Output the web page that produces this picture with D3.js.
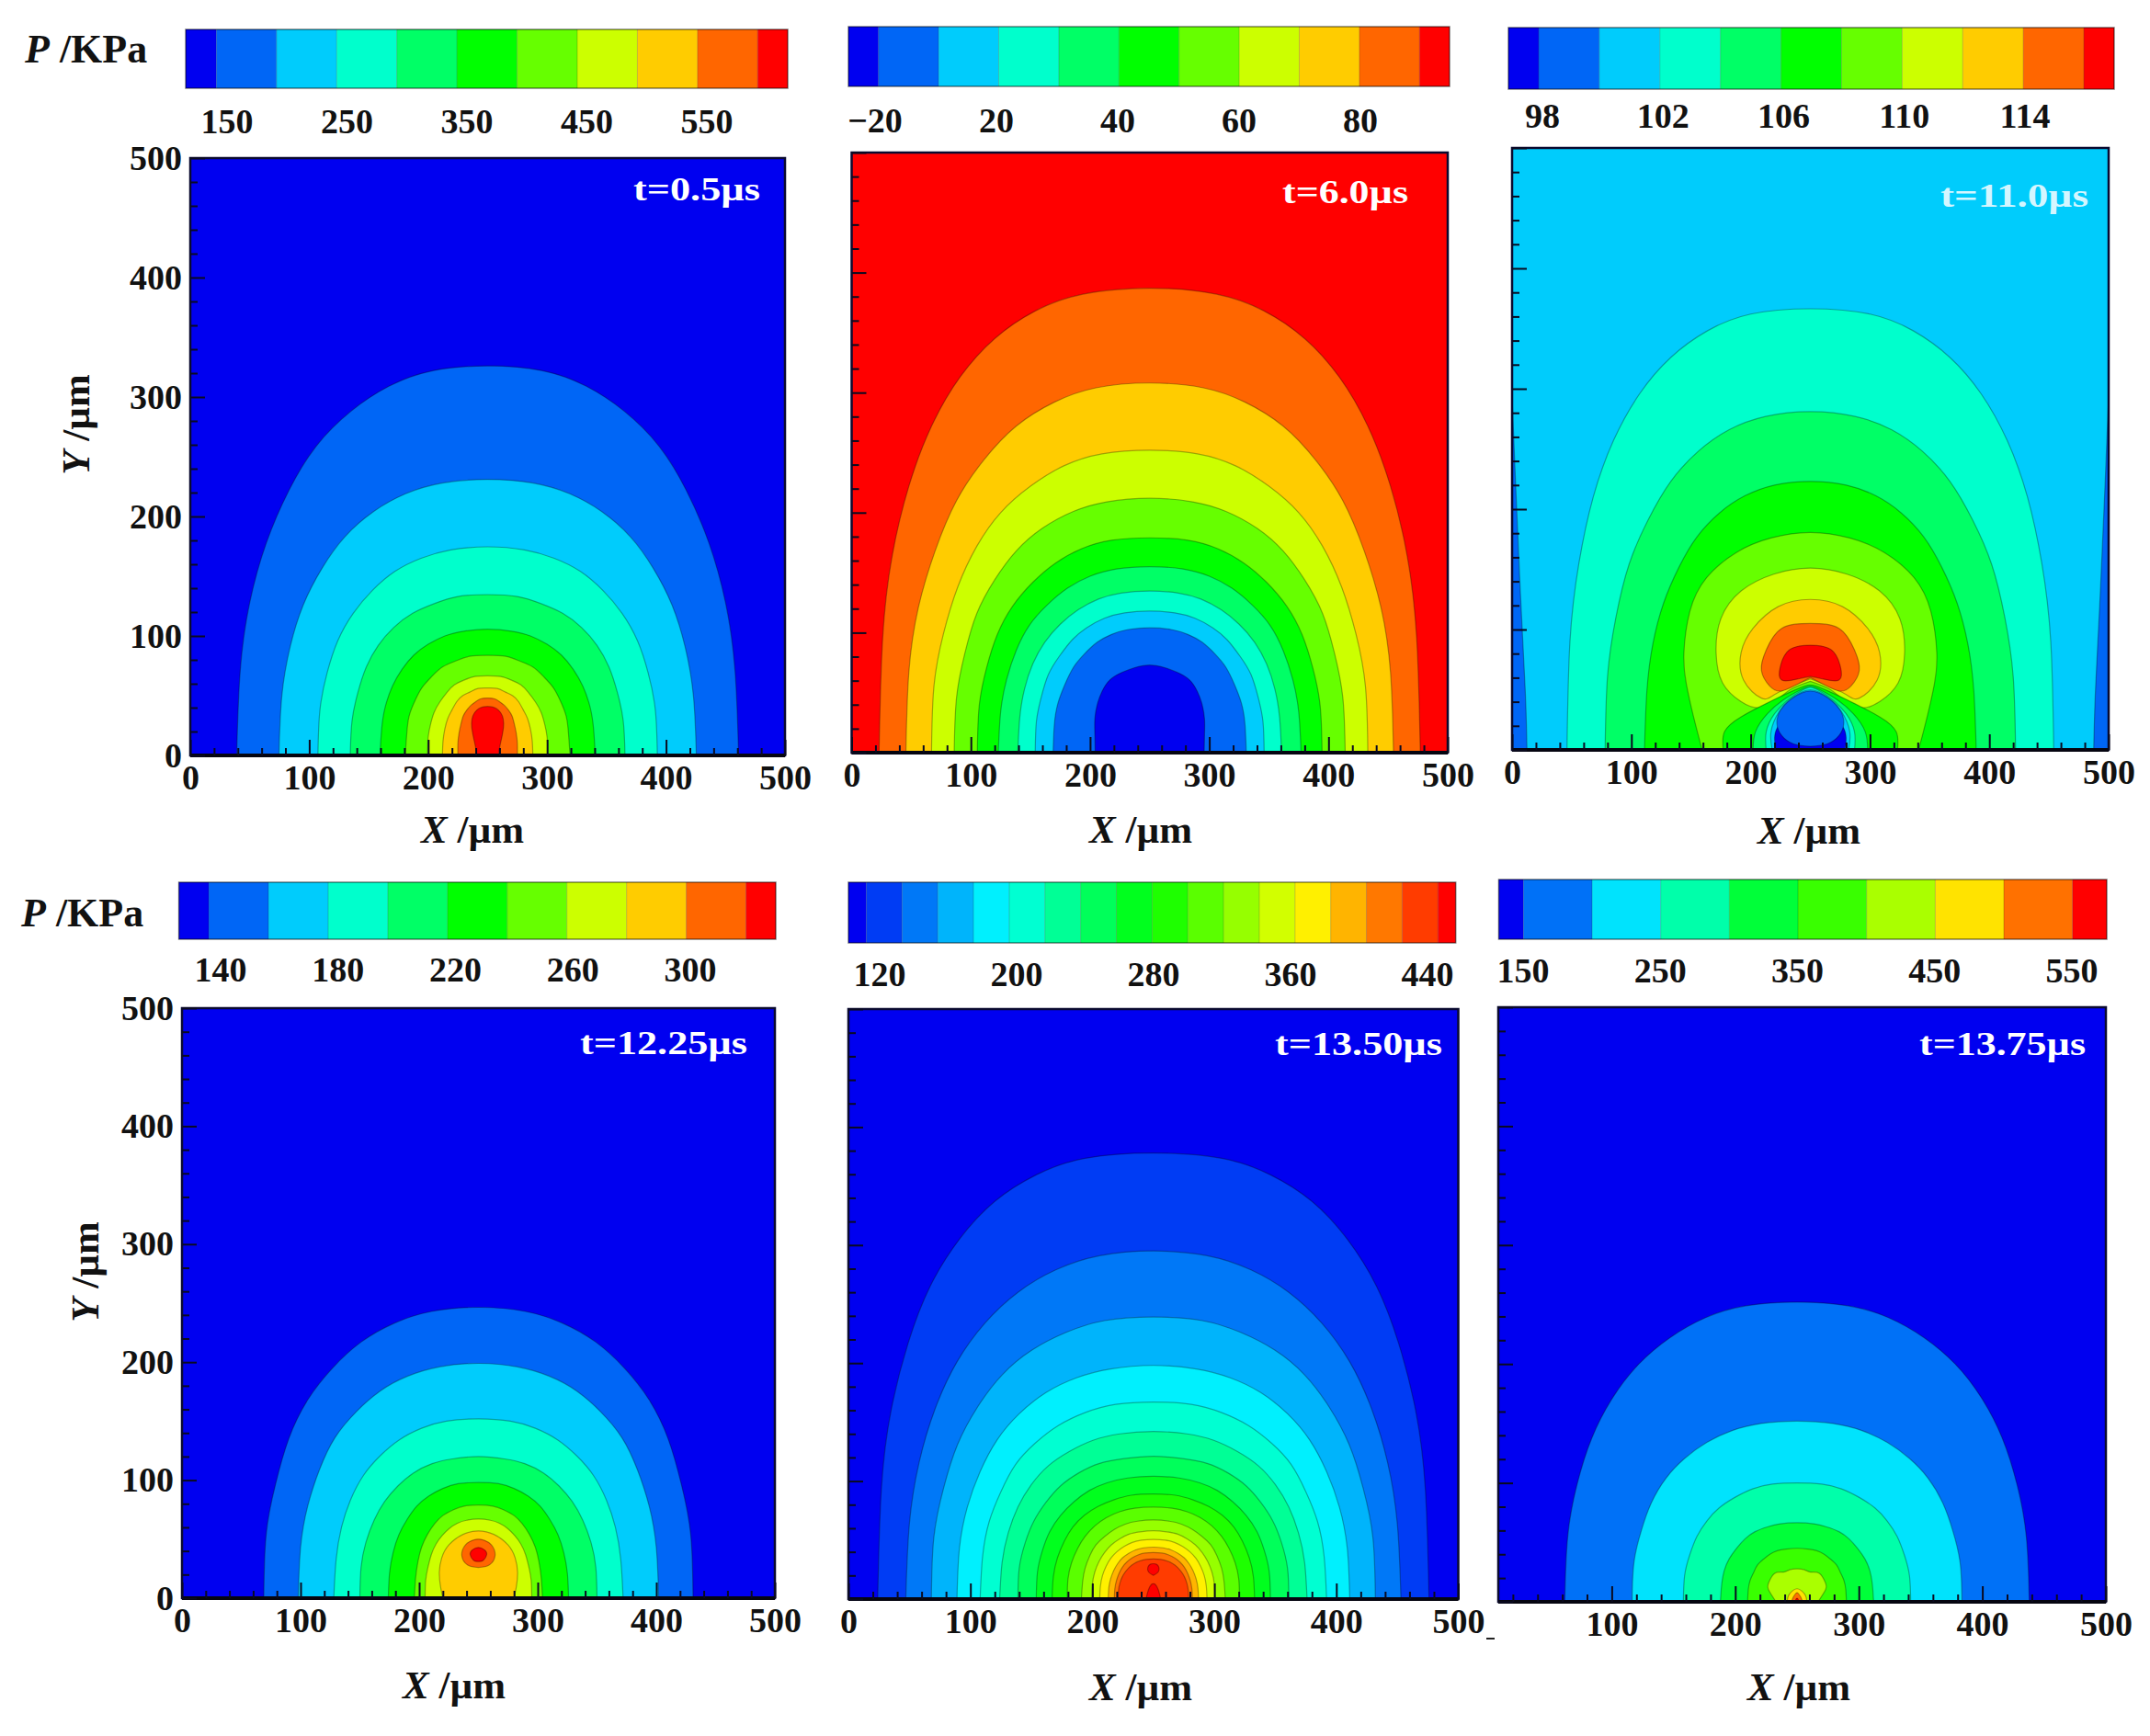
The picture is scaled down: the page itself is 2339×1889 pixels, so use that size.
<!DOCTYPE html>
<html>
<meta charset="utf-8">
<style>
body { margin: 0; background: #fff; }
text { font-family: "Liberation Serif", "Times New Roman", serif; font-weight: bold; fill: #111; }
.tick text { font-size: 38px; }
.bar-label { font-size: 38px; }
.title { font-size: 43px; }
.unit { font-size: 44px; }
.stamp { font-size: 36px; fill: #fff; }
</style>
<body>
<script src="https://cdn.jsdelivr.net/npm/d3@7"></script>
<script>

/*******************
data: colour bar levels, tick labels, contour outlines
outlines are half profiles [distance from x=250, y] in um, mirrored when drawn
********************/
var majorTicks = [0, 100, 200, 300, 400, 500];
var minorTicks = [20, 40, 60, 80, 120, 140, 160, 180, 220, 240, 260, 280, 320, 340, 360, 380, 420, 440, 460, 480];

var p1Levels = [150, 200, 250, 300, 350, 400, 450, 500, 550, 600];
var p1Domain = [124.5, 625];
var p1Labels = ["150", "250", "350", "450", "550"];
var p1Base = 125;
var p1Bands = [175, 225, 275, 325, 375, 425, 475, 525, 575, 625];
var p1Outlines = [
  [[211,0],[208,71],[200,128],[186,178],[167,222],[144,259],[115,288],[83,309],[46,322],[0,326]],
  [[175.5,0],[173,50],[166,91],[155,126],[139,157],[120,183],[96,204],[69,219],[38,228],[0,231]],
  [[142.7,0],[141,38],[135,69],[126,96],[113,119],[97,138],[78,154],[56,165],[31,172],[0,174.6]],
  [[115.5,0],[114,29],[109,53],[102,74],[92,92],[79,107],[63,119],[45,127],[25,133],[0,134.6]],
  [[90.5,0],[89,23],[86,41],[80,58],[72,72],[62,84],[50,93],[36,100],[20,104],[0,105.6]],
  [[69.3,0],[68,18],[66,33],[61,46],[55,57],[47,66],[38,74],[27,79],[15,83],[0,83.8]],
  [[50.5,0],[50,15],[48,26],[45,36],[40,45],[34,53],[28,59],[20,63],[11,66],[0,66.7]],
  [[38,0],[37.5,12],[36,22],[33.5,31],[30,38],[26,45],[21,50],[15,53],[8,56],[0,56.4]],
  [[25,0],[25,10],[24,19],[22.5,26],[20.5,33],[17.5,38],[14,42],[10,45],[5.5,47.5],[0,48]],
  [[9,0],[11,11],[13.5,27],[9,38],[0,41]]
];

var p2Levels = [0, 10, 20, 30, 40, 50, 60, 70, 80, 90];
var p2Domain = [-5, 95];
var p2Labels = ["\u221220", "20", "40", "60", "80"];
var p2Base = 95;
var p2Bands = [85, 75, 65, 55, 45, 35, 25, 15, 5, -2];
var p2Outlines = [
  [[227,0],[224,95],[216,164],[202,222],[183,272],[159,313],[130,345],[96,368],[56,382],[0,387]],
  [[204.5,0],[202,67],[194,121],[180,168],[162,210],[139,244],[112,272],[80,292],[45,304],[0,308]],
  [[183,0],[181,55],[173,99],[161,138],[145,172],[125,200],[100,222],[72,239],[40,249],[0,252]],
  [[164,0],[162,46],[155,83],[145,116],[130,144],[112,168],[90,187],[64,201],[36,209],[0,212]],
  [[144.6,0],[143,39],[137,70],[128,98],[115,122],[98,142],[79,158],[57,170],[32,177],[0,179]],
  [[127,0],[125,34],[120,61],[112,85],[101,106],[86,123],[69,137],[50,147],[28,153],[0,155]],
  [[110.6,0],[109,29],[105,53],[98,74],[88,92],[75,107],[60,119],[43,128],[24,133],[0,134.7]],
  [[96,0],[95,26],[91,46],[85,65],[76,80],[65,94],[53,104],[38,112],[21,116.5],[0,118]],
  [[81,0],[80,23],[77,41],[71,57],[64,71],[55,82],[44,92],[32,98.5],[18,102.6],[0,104]],
  [[45.7,0],[46,15],[46,28],[44,40],[40,51],[33,61],[23,67],[12,71],[0,73]]
];

var p3Levels = [98, 100, 102, 104, 106, 108, 110, 112, 114, 116];
var p3Domain = [97, 117];
var p3Labels = ["98", "102", "106", "110", "114"];
var p3Base = 99;
var p3Bands = [101, 103, 105, 107, 109, 111, 113, 115, 117, 107, 105, 103, 101, 97, 99];
var p3Outlines = [
  [[237.5,0],[239,50],[243,130],[247,220],[251,320],[262,420],[270,520],[150,600],[0,620]],
  [[204,0],[201.5,90],[194,155],[182,210],[165,257],[143,296],[117,326],[86.5,348],[50,362],[0,366.4]],
  [[172,0],[170,61],[163,110],[152,154],[136,191],[117,223],[94,248],[68,266],[37.5,277],[0,281]],
  [[139,0],[137,49],[132,88],[123,122],[110,152],[95,177],[76,197],[55,211],[30,220],[0,223]],
  [[90.7,0],[98,28],[104,55],[106,80],[101,115],[87,143],[62,164],[33,176],[0,180.6]],
  [[0,57],[17,50],[30,40],[44,35],[58,40],[73.5,55.5],[79,81],[75,109],[58,132],[30.6,146],[0,151]],
  [[0,59],[13,54],[30,46],[41,43],[56,58],[58,81],[48,101],[27,119],[0,125]],
  [[0,60],[10,55],[24,49],[34,53],[41,66],[37,83],[24,101],[0,105]],
  [[0,61],[10,59],[24,58],[25,70],[17,83.5],[0,87]],
  [[73,0],[72,15],[58,27.5],[34,40],[17,48],[5,53],[0,54]],
  [[48,0],[46,15],[36,30],[22,42],[8,50],[0,53]],
  [[37,0],[37,15],[30,30],[18,42],[6,50],[0,52]],
  [[32,0],[33,15],[26,32],[14,44],[0,50]],
  [[29,0],[30,10],[28,18],[20,24],[0,27]],
  [[0,3],[14,5],[24,12],[28,22],[25,33],[15,43],[0,49]]
];

var p4Levels = [140, 160, 180, 200, 220, 240, 260, 280, 300, 320];
var p4Domain = [130, 330];
var p4Labels = ["140", "180", "220", "260", "300"];
var p4Base = 130;
var p4Bands = [150, 170, 190, 210, 230, 250, 270, 290, 310, 330];
var p4Outlines = [
  [[181,0],[179,54],[171,97],[160,135],[144,168],[123,195],[99,217],[71,233],[39.5,243],[0,246.5]],
  [[152,0],[150,43],[144,78],[134,109],[121,136],[103,158],[83,175.5],[60,188],[33,196],[0,199]],
  [[122,0],[120,33],[115.5,60],[108,83],[97,104],[83,120.5],[67,134],[48,144],[27,150],[0,152]],
  [[100,0],[99,26],[95,47],[88,66],[79,82],[68,95],[55,106],[39,114],[22,118],[0,120]],
  [[76,0],[75,21],[72,38.5],[67,54],[60,67],[52,78],[42,86.5],[30,93],[17,97],[0,98]],
  [[54,0],[53,17],[51,31],[48,43],[43,54],[37,63],[30,70],[21,75],[12,78],[0,79]],
  [[45,0],[44.5,15],[42.6,26],[39.7,37],[35.7,46],[30.6,53],[24.6,59],[17.7,63.5],[10,66],[0,67]],
  [[30,0],[32,10],[33,22],[31,34],[25,45],[13,54],[0,57]],
  [[0,26],[9,28],[14,36],[11,45],[5,49],[0,50]],
  [[0,31],[4,32],[7,37],[5,41],[0,43]]
];

var p5Levels = [120, 140, 160, 180, 200, 220, 240, 260, 280, 300, 320, 340, 360, 380, 400, 420, 440];
var p5Domain = [110, 450];
var p5Labels = ["120", "200", "280", "360", "440"];
var p5Base = 110;
var p5Bands = [130, 150, 170, 190, 210, 230, 250, 270, 290, 310, 330, 350, 370, 390, 410, 430, 450, 450];
var p5Outlines = [
  [[226,0],[223,93],[215,160],[201,217],[183,265],[159,305],[130,337],[96,359.5],[56,373.5],[0,378]],
  [[203,0],[200,64],[192,116],[179,161],[161,201],[138,234],[111,260],[80,279],[44,291],[0,295]],
  [[182,0],[180,52],[172,94],[160.5,131],[144,163],[124,190],[99.5,211],[71.5,226],[40,236],[0,239]],
  [[161,0],[159,43],[152.5,78],[142,108],[128,135],[110,157],[88,175],[63,187.5],[35,195],[0,198]],
  [[142,0],[140,36],[134.5,66],[125,91],[113,114],[97,132],[78,147],[56,158],[31,165],[0,167]],
  [[126,0],[124,31],[119,56],[111,78],[100,97],[86,113],[69,125],[49.5,134.5],[27.5,140],[0,142]],
  [[111,0],[110,26],[105,48],[98,66],[88,82],[76,96],[61,107],[44,115],[24,119],[0,121]],
  [[96,0],[95,23],[91,41],[85,57],[76,71],[65,82.5],[52.5,92],[38,98.5],[21,102.6],[0,104]],
  [[83,0],[82,19],[78.6,35],[73,49],[66,61],[56.5,71],[45.4,78.5],[32.6,84],[18,88],[0,89]],
  [[70.6,0],[70,17],[67,31],[62,43],[56,53],[48,62],[38.6,69],[27.7,74],[15.4,77],[0,78]],
  [[59,0],[58,14.6],[56,26],[52,37],[47,46],[40,53],[32,59],[23,63.5],[13,66],[0,67]],
  [[50.5,0],[50,12.6],[48,23],[44.5,32],[40,39.5],[34.4,46],[27.6,51],[20,55],[11,57],[0,58]],
  [[44,0],[43.4,11],[41.7,20],[38.8,27.7],[34.9,34.5],[30,40],[24,44.6],[17.3,48],[9.6,50],[0,50.6]],
  [[37,0],[36.5,9.6],[35,17.3],[32.6,24],[29.3,30],[25.2,35],[20.2,38.8],[14.5,41.7],[8,43.4],[0,44]],
  [[32,0],[31.6,8.6],[30.3,15.5],[28.2,21.6],[25.4,27],[21.8,31.3],[17.5,34.8],[12.6,37.4],[7,39],[0,39.5]],
  [[29,0],[28.6,7.4],[27.5,13.4],[25.6,18.6],[23,23],[19.7,27],[15.9,30],[11.4,32.2],[6.3,33.6],[0,34]],
  [[0,20],[4,23],[4.5,27],[2.5,29.5],[0,30]],
  [[6,0],[4,8],[1.5,12.5],[0,13]]
];

var p6Levels = [150, 200, 250, 300, 350, 400, 450, 500, 550];
var p6Domain = [132, 575];
var p6Labels = ["150", "250", "350", "450", "550"];
var p6Base = 140;
var p6Bands = [175, 225, 275, 325, 375, 425, 475, 525, 575];
var p6Outlines = [
  [[188,0],[185.6,55],[178,99],[166,138],[149,172],[128,200],[103,222],[74,239],[41,249],[0,252]],
  [[133.5,0],[132,33],[126,60],[118,83],[106,104],[91,120.5],[73,134],[52.5,144],[29,150],[0,152]],
  [[92,0],[91,22],[87,39],[81,55],[73,68],[63,79],[50,88],[36,95],[20,99],[0,100]],
  [[62,0],[61,14.5],[59,26],[55,36],[49,45],[42,53],[34,59],[24,63],[13.5,65.6],[0,66.5]],
  [[40,0],[39.5,10],[38,18],[35,25],[32,31],[27,36],[22,40],[16,43],[9,44.4],[0,45]],
  [[17,0],[23,10],[23,16],[18,24],[11,25],[6,27],[0,27.8]],
  [[8,0],[7,5],[4,9],[0,11]],
  [[4.5,0],[3,4],[1,7],[0,7.7]],
  [[1.5,0],[1,2],[0,3]]
];

/* layout of the six panels, in page pixels */
var panels = [
  { levels: p1Levels, domain: p1Domain, labels: p1Labels, base: p1Base, bands: p1Bands, outlines: p1Outlines,
    bar: [202, 857, 32, 96], labelX: [247, 769], labelY: 145,
    xRange: [207, 854], yRange: [822, 172], yLabels: true, stamp: "t=0.5\u00b5s", stampPos: [827, 218], stampLen: 138,
    xTitle: [514, 917], yTitle: [97, 462], unit: [27, 68] },
  { levels: p2Levels, domain: p2Domain, labels: p2Labels, base: p2Base, bands: p2Bands, outlines: p2Outlines,
    bar: [923, 1577, 29, 94], labelX: [952, 1480], labelY: 144,
    xRange: [926.5, 1575], yRange: [819, 166], stamp: "t=6.0\u00b5s", stampPos: [1532, 221], stampLen: 137,
    xTitle: [1241, 917] },
  { levels: p3Levels, domain: p3Domain, labels: p3Labels, base: p3Base, bands: p3Bands, outlines: p3Outlines,
    bar: [1641, 2300, 30, 97], labelX: [1678, 2203], labelY: 139,
    xRange: [1645, 2294], yRange: [816, 161], stamp: "t=11.0\u00b5s", stampPos: [2272, 225], stampLen: 161,
    xTitle: [1968, 918] },
  { levels: p4Levels, domain: p4Domain, labels: p4Labels, base: p4Base, bands: p4Bands, outlines: p4Outlines,
    bar: [194.6, 844, 960, 1022], labelX: [240, 751], labelY: 1068,
    xRange: [198, 843], yRange: [1739, 1097], yLabels: true, stamp: "t=12.25\u00b5s", stampPos: [813, 1147], stampLen: 182,
    xTitle: [494, 1848], yTitle: [107, 1384], unit: [23, 1008] },
  { levels: p5Levels, domain: p5Domain, labels: p5Labels, base: p5Base, bands: p5Bands, outlines: p5Outlines,
    bar: [923, 1583.7, 960, 1026], labelX: [957, 1553], labelY: 1073,
    xRange: [923, 1586.5], yRange: [1740, 1098], stamp: "t=13.50\u00b5s", stampPos: [1569, 1148], stampLen: 182,
    xTitle: [1241, 1850] },
  { levels: p6Levels, domain: p6Domain, labels: p6Labels, base: p6Base, bands: p6Bands, outlines: p6Outlines,
    bar: [1630.5, 2292, 957, 1022], labelX: [1657, 2254], labelY: 1069,
    xRange: [1619, 2291], yRange: [1743, 1096], clipLeft: 1630, stamp: "t=13.75\u00b5s", stampPos: [2269, 1148], stampLen: 181,
    xTitle: [1957, 1850] }
];

/********************/
var svg = d3.select("body").append("svg")
    .attr("width", 2339)
    .attr("height", 1889);

// same rainbow stops on every bar, the segment count changes
var rainbow = d3.scaleLinear()
    .domain([0, 0.25, 0.5, 0.75, 1])
    .range(["#0000f0", "#00ffff", "#00ff00", "#ffff00", "#ff0000"]);

function segmentColor(levels, value) {
    return rainbow(d3.bisect(levels, value) / levels.length);
}

function drawBar(p) {
    var g = svg.append("g");
    var bx = d3.scaleLinear().domain(p.domain).range([p.bar[0], p.bar[1]]);
    var edges = [p.domain[0]].concat(p.levels, [p.domain[1]]);

    g.selectAll("rect")
        .data(d3.pairs(edges))
        .enter().append("rect")
        .attr("x", function(d) { return bx(d[0]); })
        .attr("y", p.bar[2])
        .attr("width", function(d) { return bx(d[1]) - bx(d[0]); })
        .attr("height", p.bar[3] - p.bar[2])
        .attr("fill", function(d, i) { return rainbow(i / p.levels.length); });

    g.selectAll("line")
        .data(p.levels)
        .enter().append("line")
        .attr("x1", bx).attr("x2", bx)
        .attr("y1", p.bar[2]).attr("y2", p.bar[3])
        .attr("stroke", "#000").attr("stroke-opacity", 0.2);

    g.append("rect")
        .attr("x", p.bar[0]).attr("y", p.bar[2])
        .attr("width", p.bar[1] - p.bar[0]).attr("height", p.bar[3] - p.bar[2])
        .attr("fill", "none").attr("stroke", "#000").attr("stroke-opacity", 0.5).attr("stroke-width", 1.5);

    var lx = d3.scalePoint().domain(p.labels).range(p.labelX);
    g.selectAll("text")
        .data(p.labels)
        .enter().append("text")
        .attr("class", "bar-label")
        .attr("x", lx)
        .attr("y", p.labelY)
        .attr("text-anchor", "middle")
        .text(function(d) { return d; });
}

function drawPlot(p, n) {
    var x = d3.scaleLinear().domain([0, 500]).range(p.xRange);
    var y = d3.scaleLinear().domain([0, 500]).range(p.yRange);
    var left = p.clipLeft || x(0);

    svg.append("clipPath").attr("id", "clip" + n)
        .append("rect")
        .attr("x", left).attr("y", y(500))
        .attr("width", x(500) - left).attr("height", y(0) - y(500));

    var g = svg.append("g").attr("clip-path", "url(#clip" + n + ")");
    g.append("rect")
        .attr("x", left).attr("y", y(500))
        .attr("width", x(500) - left).attr("height", y(0) - y(500))
        .attr("fill", segmentColor(p.levels, p.base));

    var line = d3.line()
        .x(function(d) { return x(d[0]); })
        .y(function(d) { return y(d[1]); })
        .curve(d3.curveNatural);

    /* mirror the half profile round x=250 */
    var full = function(half) {
        var right = half.map(function(d) { return [250 + d[0], d[1]]; });
        var other = half.slice(0, -1).reverse().map(function(d) { return [250 - d[0], d[1]]; });
        return right.concat(other);
    };

    g.selectAll("path.contour")
        .data(p.outlines)
        .enter().append("path")
        .attr("class", "contour")
        .attr("d", function(d) { return line(full(d)) + "Z"; })
        .attr("fill", function(d, i) { return segmentColor(p.levels, p.bands[i]); })
        .attr("stroke", "#000")
        .attr("stroke-opacity", 0.3)
        .attr("stroke-width", 1.2);

    // frame first, ticks sit on top of it
    svg.append("rect")
        .attr("x", left).attr("y", y(500))
        .attr("width", x(500) - left).attr("height", y(0) - y(500))
        .attr("fill", "none").attr("stroke", "#0a0a30").attr("stroke-width", 2.5);
    svg.append("line")
        .attr("x1", left).attr("x2", x(500))
        .attr("y1", y(0)).attr("y2", y(0))
        .attr("stroke", "#050510").attr("stroke-width", 4);

    var major = majorTicks.filter(function(d) { return x(d) >= left; });
    var minor = minorTicks.filter(function(d) { return x(d) >= left; });

    var bottom = svg.append("g").attr("transform", "translate(0," + y(0) + ")");
    bottom.append("g").call(d3.axisBottom(x).tickValues(major).tickSize(-17).tickPadding(10).tickFormat(d3.format("d")));
    bottom.append("g").call(d3.axisBottom(x).tickValues(minor).tickSize(-8).tickFormat(""));

    var side = svg.append("g").attr("transform", "translate(" + left + ",0)");
    side.append("g").call(d3.axisLeft(y).tickValues(majorTicks).tickSize(-16).tickPadding(9)
        .tickFormat(p.yLabels ? d3.format("d") : ""));
    side.append("g").call(d3.axisLeft(y).tickValues(minorTicks).tickSize(-8).tickFormat(""));

    svg.selectAll(".domain").remove();
    svg.selectAll(".tick line").attr("stroke", "#0a0a20").attr("stroke-width", 2);

    // small stamp top right
    svg.append("text")
        .attr("class", "stamp")
        .attr("x", p.stampPos[0]).attr("y", p.stampPos[1])
        .attr("text-anchor", "end")
        .attr("textLength", p.stampLen)
        .attr("lengthAdjust", "spacingAndGlyphs")
        .style("fill", n == 2 ? "#d4f6ff" : "#fff")
        .text(p.stamp);

    var xt = svg.append("text")
        .attr("class", "title")
        .attr("x", p.xTitle[0]).attr("y", p.xTitle[1])
        .attr("text-anchor", "middle");
    xt.append("tspan").attr("font-style", "italic").text("X");
    xt.append("tspan").text(" /\u00b5m");

    if (p.yTitle) {
        var yt = svg.append("text")
            .attr("class", "title")
            .attr("transform", "translate(" + p.yTitle[0] + "," + p.yTitle[1] + ") rotate(-90)")
            .attr("text-anchor", "middle");
        yt.append("tspan").attr("font-style", "italic").text("Y");
        yt.append("tspan").text(" /\u00b5m");
    }

    if (p.unit) {
        var ut = svg.append("text")
            .attr("class", "unit")
            .attr("x", p.unit[0]).attr("y", p.unit[1]);
        ut.append("tspan").attr("font-style", "italic").text("P");
        ut.append("tspan").text(" /KPa");
    }
}

panels.forEach(function(p, n) {
    drawBar(p);
    drawPlot(p, n);
});

// stray scan mark right after the 500 of the lower middle panel
svg.append("line")
    .attr("x1", 1617).attr("x2", 1626)
    .attr("y1", 1783).attr("y2", 1783)
    .attr("stroke", "#222").attr("stroke-width", 2);
</script>
</body>
</html>
